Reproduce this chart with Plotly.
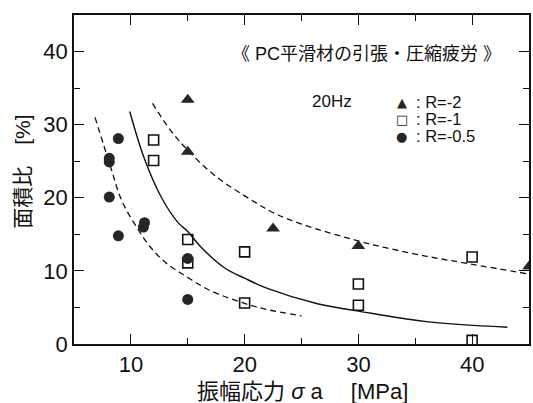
import plotly.graph_objects as go

# ---- data ----
tri_x = [15, 15, 22.5, 30, 45]
tri_y = [33.4, 26.3, 15.8, 13.4, 10.6]

sq_x = [12, 12, 15, 15, 20, 20, 30, 30, 40, 40]
sq_y = [27.9, 25.1, 14.3, 11.1, 12.6, 5.6, 8.2, 5.3, 11.9, 0.5]

ci_x = [8.1, 8.1, 8.1, 8.9, 8.9, 11.1, 11.2, 15, 15]
ci_y = [25.4, 24.9, 20.1, 28.1, 14.8, 16.0, 16.6, 11.7, 6.1]

# fitted curves
fit_m1_x = [9.9, 11.2, 12.7, 14.15, 15, 16.2, 18.25, 20, 22, 26.4, 30, 35.8, 43.1]
fit_m1_y = [31.8, 25.3, 20.0, 16.6, 15.4, 13.2, 10.4, 9.0, 7.6, 5.5, 4.5, 3.1, 2.3]

fit_m2_x = [11.9, 13.5, 15, 17.5, 20.9, 22.6, 25, 30.2, 32.3, 36, 40, 44.9]
fit_m2_y = [32.9, 29.2, 26.5, 22.9, 19.4, 17.9, 16.4, 14.0, 13.2, 12.0, 10.9, 9.6]

fit_m05_x = [6.85, 8.2, 9.2, 10.5, 11.7, 13, 14.9, 17, 20, 22, 25]
fit_m05_y = [31, 24.3, 19.6, 16.0, 13.3, 11.2, 9.2, 7.3, 5.55, 4.7, 3.85]

x_ticks = [10, 20, 30, 40]
y_ticks = [0, 10, 20, 30, 40]

legend_labels = [": R=-2", ": R=-1", ": R=-0.5"]
legend_symbols = ["▲", "□", "●"]

FONT = "Liberation Sans, Arial, Noto Sans CJK JP, sans-serif"
INK = "#111111"
MK = "#262626"

fig = go.Figure()

fig.add_trace(go.Scatter(x=fit_m05_x, y=fit_m05_y, mode="lines", line_shape="spline",
                         line=dict(color=INK, width=1.3, dash="6px,4px"), showlegend=False))
fig.add_trace(go.Scatter(x=fit_m1_x, y=fit_m1_y, mode="lines", line_shape="spline",
                         line=dict(color=INK, width=1.4), showlegend=False))
fig.add_trace(go.Scatter(x=fit_m2_x, y=fit_m2_y, mode="lines", line_shape="spline",
                         line=dict(color=INK, width=1.3, dash="6px,4px"), showlegend=False))

fig.add_trace(go.Scatter(x=tri_x, y=tri_y, mode="markers", name="R=-2",
                         marker=dict(symbol="triangle-up", size=12, color=MK,
                                     line=dict(width=0)), showlegend=False))
fig.add_trace(go.Scatter(x=sq_x, y=sq_y, mode="markers", name="R=-1",
                         marker=dict(symbol="square-open", size=10, color=INK,
                                     line=dict(width=1.6)), showlegend=False))
fig.add_trace(go.Scatter(x=ci_x, y=ci_y, mode="markers", name="R=-0.5",
                         marker=dict(symbol="circle", size=11, color=MK,
                                     line=dict(width=0)), showlegend=False))

axis_common = dict(showline=True, linecolor=INK, linewidth=1.5, mirror="ticks",
                   ticks="inside", ticklen=10, tickwidth=1.3, tickcolor=INK,
                   showgrid=False, zeroline=False,
                   tickfont=dict(family=FONT, size=22, color=INK))

fig.update_xaxes(range=[5, 45], tickmode="array", tickvals=x_ticks,
                 minor=dict(dtick=5, tick0=0, ticks="inside", ticklen=6,
                            tickwidth=1.2, tickcolor=INK),
                 **axis_common)
fig.update_yaxes(range=[0, 45], tickmode="array", tickvals=y_ticks,
                 minor=dict(dtick=5, tick0=0, ticks="inside", ticklen=6,
                            tickwidth=1.2, tickcolor=INK),
                 **axis_common)

# outer half of the crossing major ticks on the left axis
fig.update_layout(yaxis2=dict(overlaying="y", side="left", anchor="x", range=[0, 45],
                              tickmode="array", tickvals=y_ticks, ticks="outside",
                              ticklen=5, tickwidth=1.3, tickcolor=INK,
                              showticklabels=False, showline=False, showgrid=False,
                              zeroline=False))

# paper coordinate helpers (plot area 74..531 x 15..344 px)
def px(xp):
    return (xp - 74) / 457.0

def py(yp):
    return (344 - yp) / 329.0

ann = []
ann.append(dict(text="《 PC平滑材の引張・圧縮疲労 》", x=px(367.5), y=py(54),
                xref="paper", yref="paper", showarrow=False, xanchor="center",
                yanchor="middle", font=dict(family=FONT, size=18, color=INK)))
ann.append(dict(text="20Hz", x=px(311), y=py(102), xref="paper", yref="paper",
                showarrow=False, xanchor="left", yanchor="middle",
                font=dict(family=FONT, size=17, color=INK)))
rows_y = [102, 119, 136]
for sym, lab, ry in zip(legend_symbols, legend_labels, rows_y):
    ann.append(dict(text=sym, x=px(403), y=py(ry), xref="paper", yref="paper",
                    showarrow=False, xanchor="center", yanchor="middle",
                    height=16, borderpad=0,
                    font=dict(family="DejaVu Sans", size=13, color=MK)))
    ann.append(dict(text=lab, x=px(416), y=py(ry), xref="paper", yref="paper",
                    showarrow=False, xanchor="left", yanchor="middle",
                    height=16, borderpad=0,
                    font=dict(family=FONT, size=16.5, color=INK)))
ann.append(dict(text="面積比　[%]", x=px(22), y=py(171.5), xref="paper", yref="paper",
                showarrow=False, xanchor="center", yanchor="middle", textangle=-90,
                font=dict(family=FONT, size=21, color=INK)))
ann.append(dict(text="振幅応力 <i>σ</i> a　 [MPa]", x=px(304), y=py(391.5),
                xref="paper", yref="paper", showarrow=False, xanchor="center",
                yanchor="middle", font=dict(family=FONT, size=22, color=INK)))

fig.update_layout(width=533, height=403,
                  margin=dict(l=74, r=2, t=15, b=59),
                  paper_bgcolor="white", plot_bgcolor="white",
                  annotations=ann, showlegend=False)

fig.write_html("out.html")
